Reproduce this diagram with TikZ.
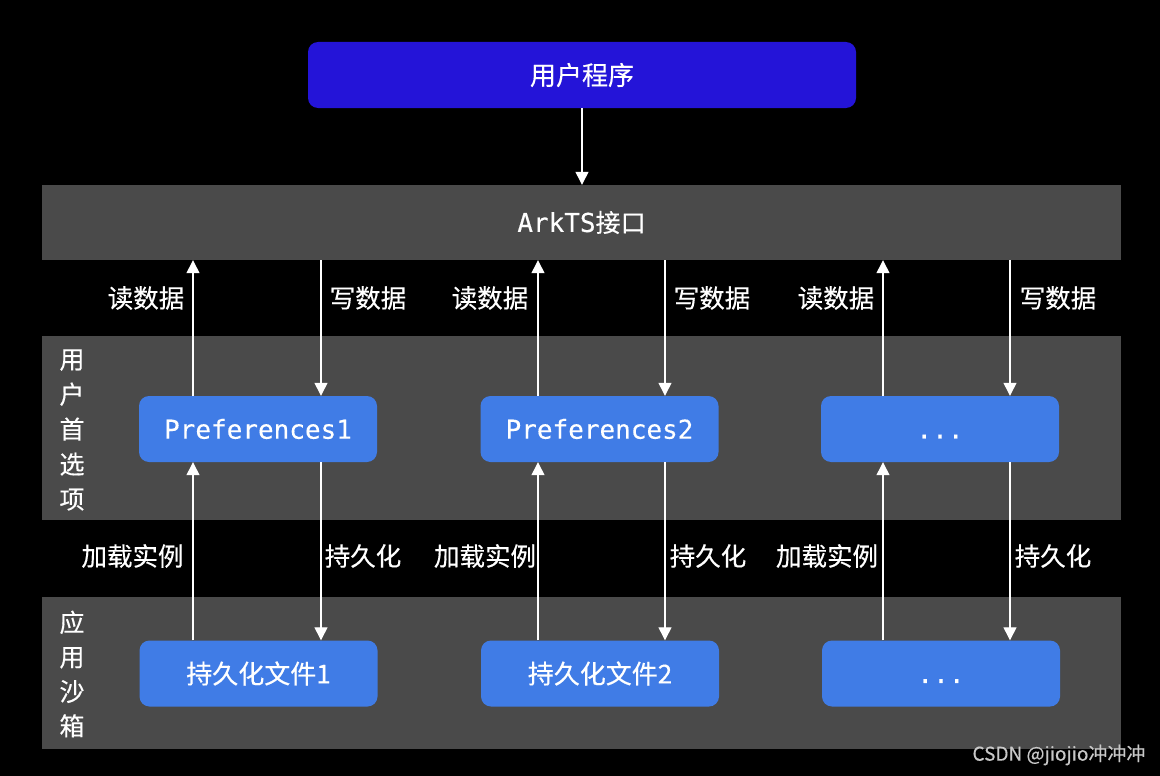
\documentclass[tikz,border=0pt]{standalone}
\usepackage{fontspec}
\setmainfont{Noto Sans CJK SC}[FakeBold=0.35]
\newfontfamily\monof{DejaVu Sans Mono}[FakeBold=0.25]
\usetikzlibrary{arrows.meta}
\definecolor{bandgray}{HTML}{4A4A4A}
\definecolor{topblue}{HTML}{2414D8}
\definecolor{boxblue}{HTML}{407CE6}
\definecolor{wmgray}{HTML}{C8C8C8}
\begin{document}
\begin{tikzpicture}[x=1pt,y=-1pt,
  bandbox/.style={fill=bandgray, draw=none, inner sep=0pt},
  bluebox/.style={fill=boxblue, rounded corners=10pt, draw=none, minimum width=238pt, minimum height=66pt, inner sep=0pt, text=white, font=\fontsize{26}{30}\selectfont},
  monobox/.style={bluebox, font=\fontsize{26}{30}\selectfont\monof},
  flow/.style={draw=white, line width=1.3pt, -{Triangle[width=13pt,length=13pt]}},
  lbl/.style={text=white, inner sep=0pt, font=\fontsize{25.5}{30}\selectfont},
  vlbl/.style={text=white, inner sep=0pt, align=center},
]
\fill[black] (0,0) rectangle (1160,776);
\useasboundingbox (0,0) rectangle (1160,776);

% bands
\node[bandbox, minimum width=1079pt, minimum height=75pt, text=white, font=\fontsize{25}{30}\selectfont] (ark) at (581.5,222.5) {{\fontsize{26}{30}\selectfont\monof ArkTS}接口};
\node[bandbox, minimum width=1079pt, minimum height=184pt] (prefband) at (581.5,428) {};
\node[bandbox, minimum width=1079pt, minimum height=152pt] (sandband) at (581.5,673) {};

% top program box
\node[fill=topblue, rounded corners=10pt, minimum width=548pt, minimum height=66pt, inner sep=0pt, text=white, font=\fontsize{26}{30}\selectfont] (app) at (582,75) {用户程序};
\draw[flow] (app.south) -- (ark.north -| app.south);

% vertical labels
\node[vlbl, font=\fontsize{25}{35}\selectfont] (vpref) at (72,430) {用\\户\\首\\选\\项};
\node[vlbl, font=\fontsize{25}{34.5}\selectfont] (vsand) at (72,674) {应\\用\\沙\\箱};

% preference boxes
\node[monobox] (p1) at (258,429) {Preferences1};
\node[monobox] (p2) at (599.5,429) {Preferences2};
\node[monobox] (p3) at (940,429) {\vphantom{P}...};

% file boxes
\node[bluebox] (f1) at (258.5,673.5) {持久化文件1};
\node[bluebox] (f2) at (600,673.5) {持久化文件2};
\node[monobox] (f3) at (941,673.5) {\vphantom{P}...};

% arrow x positions
\coordinate (u1) at (193,0);
\coordinate (d1) at (321,0);
\coordinate (u2) at (538,0);
\coordinate (d2) at (665,0);
\coordinate (u3) at (883,0);
\coordinate (d3) at (1010,0);

% upper arrows
\draw[flow] (p1.north -| u1) -- (ark.south -| u1);
\draw[flow] (ark.south -| d1) -- (p1.north -| d1);
\draw[flow] (p2.north -| u2) -- (ark.south -| u2);
\draw[flow] (ark.south -| d2) -- (p2.north -| d2);
\draw[flow] (p3.north -| u3) -- (ark.south -| u3);
\draw[flow] (ark.south -| d3) -- (p3.north -| d3);

% lower arrows
\draw[flow] (f1.north -| u1) -- (p1.south -| u1);
\draw[flow] (p1.south -| d1) -- (f1.north -| d1);
\draw[flow] (f2.north -| u2) -- (p2.south -| u2);
\draw[flow] (p2.south -| d2) -- (f2.north -| d2);
\draw[flow] (f3.north -| u3) -- (p3.south -| u3);
\draw[flow] (p3.south -| d3) -- (f3.north -| d3);

% labels
\node[lbl] (r1) at (146,298) {读数据};
\node[lbl] (w1) at (368,298) {写数据};
\node[lbl] (r2) at (490,298) {读数据};
\node[lbl] (w2) at (712,298) {写数据};
\node[lbl] (r3) at (836,298) {读数据};
\node[lbl] (w3) at (1058,298) {写数据};

\node[lbl] (l1) at (132.5,556) {加载实例};
\node[lbl] (s1) at (363,556) {持久化};
\node[lbl] (l2) at (485,556) {加载实例};
\node[lbl] (s2) at (708,556) {持久化};
\node[lbl] (l3) at (827,556) {加载实例};
\node[lbl] (s3) at (1053,556) {持久化};

% watermark
\node[text=wmgray, inner sep=0pt, font=\fontsize{19}{22}\selectfont] (wm) at (1059,755) {CSDN @jiojio冲冲冲};
\end{tikzpicture}
\end{document}
